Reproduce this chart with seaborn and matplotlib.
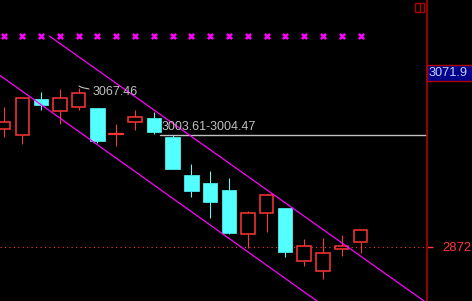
import numpy as np
import pandas as pd
import matplotlib
matplotlib.use("Agg")
import matplotlib.pyplot as plt
from matplotlib.patches import Rectangle
import seaborn as sns

# ---------------- data ----------------
idx = list(range(1, 21))
opens  = [3010.5, 3004.2, 3046.3, 3032.5, 3037.2, 3036.0, 3005.3, 3019.5, 3023.9, 3001.8,
          2956.6, 2947.2, 2938.9, 2886.6, 2911.4, 2917.7, 2854.8, 2843.0, 2868.9, 2877.2]
highs  = [3036.8, 3047.1, 3054.2, 3058.1, 3059.6, 3036.0, 3016.8, 3033.7, 3030.9, 3003.61,
          2969.6, 2961.3, 2953.1, 2914.1, 2934.5, 2917.7, 2881.1, 2882.3, 2885.8, 2891.7]
lows   = [3001.8, 2992.8, 3033.7, 3017.1, 3033.3, 2994.7, 2991.2, 3010.1, 3004.47, 2963.5,
          2931.0, 2905.5, 2887.0, 2870.8, 2889.7, 2860.2, 2849.2, 2834.2, 2861.4, 2864.9]
closes = [3018.8, 3047.1, 3039.6, 3047.1, 3053.4, 2997.1, 3005.3, 3025.0, 3007.7, 2964.0,
          2938.1, 2925.1, 2887.8, 2911.8, 2933.0, 2866.1, 2872.8, 2864.6, 2872.5, 2891.7]

marker_level = 3120.6
upper_x = [3.44, 23.6]
upper_y = [3120.6, 2804.5]
lower_x = [0.8, 18.5]
lower_y = [3074.3, 2795.0]
ref_price = 2872
gap_low, gap_high = 3003.61, 3004.47
gap_text = "3003.61-3004.47"
high_text = "3067.46"
cursor_text = "3071.9"

df = pd.DataFrame(dict(idx=idx, open=opens, high=highs, low=lows, close=closes))

# ---------------- style ----------------
sns.set_style("dark")
plt.rcParams["font.family"] = ["Liberation Sans", "DejaVu Sans"]

RED = "#ff3636"
CYAN = "#54ffff"
MAG = "#ff00ff"
AXRED = "#b00000"
GRAY = "#c0c0c0"
FS = 9.0

W, H = 472, 301
fig = plt.figure(figsize=(W / 100, H / 100), dpi=100, facecolor="black")
ax = fig.add_axes([0, 0, 427 / W, 1])
ax.set_facecolor("black")

ylo = ref_price - 54.3 * 1.18
yhi = ref_price + 246.7 * 1.18
ax.set_ylim(ylo, yhi)
xl = 1 - 3.5 / 18.79
ax.set_xlim(xl, xl + 427 / 18.79)

lw = 0.75
bw = 0.72
for _, r in df.iterrows():
    x = r["idx"]
    o, h, l, c = r["open"], r["high"], r["low"], r["close"]
    top, bot = max(o, c), min(o, c)
    up = c >= o
    col = RED if up else CYAN
    if h > top:
        ax.plot([x, x], [top, h], color=col, lw=lw, solid_capstyle="butt", zorder=3)
    if l < bot:
        ax.plot([x, x], [l, bot], color=col, lw=lw, solid_capstyle="butt", zorder=3)
    if abs(top - bot) < 0.5:
        ax.plot([x - bw / 2, x + bw / 2], [top, top], color=col, lw=1.6, zorder=3)
    elif up:
        ax.add_patch(Rectangle((x - bw / 2, bot), bw, top - bot, facecolor="black",
                               edgecolor=col, lw=1.1, zorder=3))
    else:
        ax.add_patch(Rectangle((x - bw / 2 - 0.02, bot), bw + 0.04, top - bot, facecolor=col,
                               edgecolor=col, lw=0.5, zorder=3))

# channel lines
sns.lineplot(x=upper_x, y=upper_y, ax=ax, color=MAG, lw=0.9, zorder=4)
sns.lineplot(x=lower_x, y=lower_y, ax=ax, color=MAG, lw=0.9, zorder=4)

# marker row
sns.scatterplot(x=idx, y=[marker_level] * len(idx), ax=ax, marker="x", s=14,
                color=MAG, linewidth=1.8, zorder=5)

# reference dotted line
ax.axhline(ref_price, xmin=0, xmax=424 / 427, color=RED, lw=0.8,
           linestyle=(0, (1, 3)), zorder=1)

# gap line and text
gx0 = xl + 160 / 18.79
ax.plot([gx0, xl + 427 / 18.79], [gap_low - 0.3, gap_low - 0.3], color=GRAY, lw=1.0, zorder=2)
ax.text(gx0 + 0.1, gap_high + 8.5, gap_text, color=GRAY, fontsize=FS,
        va="center", ha="left", zorder=6)

# high label
hx = xl + 92.7 / 18.79
ax.text(hx, ref_price + (246.7 - 92.5) * 1.18, high_text, color=GRAY, fontsize=FS,
        va="center", ha="left", zorder=6)
ax.plot([xl + 79 / 18.79, xl + 82 / 18.79, xl + 89 / 18.79],
        [ref_price + (246.7 - 86) * 1.18, ref_price + (246.7 - 87.5) * 1.18,
         ref_price + (246.7 - 89) * 1.18], color=GRAY, lw=0.8, zorder=6)

# axes/spines
for s in ["left", "top", "bottom"]:
    ax.spines[s].set_visible(False)
ax.spines["right"].set_color(AXRED)
ax.spines["right"].set_linewidth(1.2)
ax.grid(False)
ax.set_xticks([])
ax.yaxis.tick_right()
ax.set_yticks([ref_price])
ax.set_yticklabels([str(ref_price)])
ax.tick_params(axis="y", colors=RED, length=4.3, width=1.0, pad=7, labelsize=FS + 0.4,
               labelcolor=RED)
ax.set_xlabel("")
ax.set_ylabel("")

# cursor price box
fig.patches.append(Rectangle((427 / W, 1 - 81 / H), 45 / W, 16 / H, transform=fig.transFigure,
                             facecolor="#000088", edgecolor=AXRED, lw=1.0, zorder=5))
fig.text(429 / W, 1 - 72.5 / H, cursor_text, color="#d0d0ff", fontsize=FS + 0.2,
         va="center", ha="left", zorder=6)

# top-right icon
fig.patches.append(Rectangle((415.3 / W, 1 - 11.7 / H), 9 / W, 8.4 / H, transform=fig.transFigure,
                             facecolor="none", edgecolor=AXRED, lw=1.0, zorder=5))
fig.lines.append(plt.Line2D([420.3 / W, 420.3 / W], [1 - 11.7 / H, 1 - 3.3 / H],
                            transform=fig.transFigure, color=AXRED, lw=1.0))

fig.savefig("out.png", dpi=100, facecolor="black")
